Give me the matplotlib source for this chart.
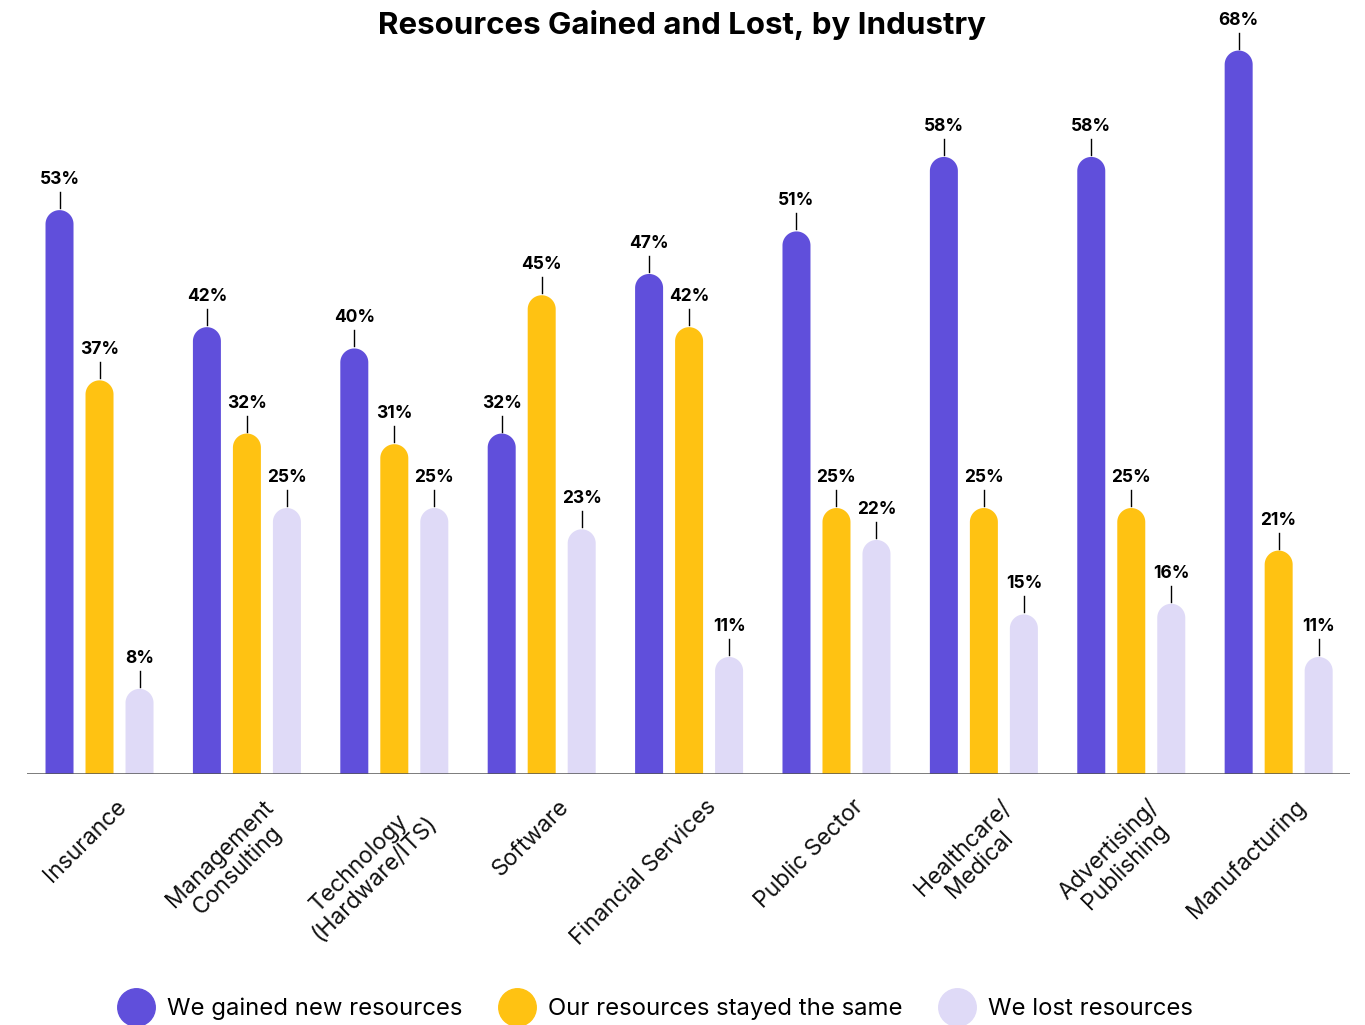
import numpy as np
import matplotlib.pyplot as plt
from matplotlib.patches import Polygon
from matplotlib.lines import Line2D
from matplotlib.transforms import ScaledTranslation

plt.rcParams['font.family'] = ['Inter', 'DejaVu Sans']

industries = ['Insurance', 'Management\nConsulting', 'Technology\n(Hardware/ITS)', 'Software',
              'Financial Services', 'Public Sector', 'Healthcare/\nMedical',
              'Advertising/\nPublishing', 'Manufacturing']
gained = [53, 42, 40, 32, 47, 51, 58, 58, 68]
same = [37, 32, 31, 45, 42, 25, 25, 25, 21]
lost = [8, 25, 25, 23, 11, 22, 15, 16, 11]
series_names = ['We gained new resources', 'Our resources stayed the same', 'We lost resources']
colors = ['#604fdb', '#ffc212', '#dfdaf7']

fig = plt.figure(figsize=(13.65, 10.25), dpi=100)
ax = fig.add_axes([27 / 1365, 251 / 1025, 1323 / 1365, 766 / 1025])

x = np.arange(len(industries))
xmin, xmax = -0.492, 8.484
ymin, ymax = 0, 72
ax.set_xlim(xmin, xmax)
ax.set_ylim(ymin, ymax)

# pixel -> data conversions so the rounded caps come out circular
px_x = (xmax - xmin) / 1323
px_y = (ymax - ymin) / 766
bw = 28 * px_x
off = 40 * px_x
ry = 14 * px_y
t = np.linspace(np.pi, 0, 40)

for k, vals in enumerate([gained, same, lost]):
    for i, v in enumerate(vals):
        cx = x[i] + (k - 1) * off
        cap = np.column_stack([cx + bw / 2 * np.cos(t), v - ry + ry * np.sin(t)])
        pts = np.vstack([[cx - bw / 2, 0], cap, [cx + bw / 2, 0]])
        ax.add_patch(Polygon(pts, closed=True, color=colors[k], lw=0))
        ax.plot([cx, cx], [v + 2 * px_y, v + 18 * px_y], color='black', lw=1)
        ax.text(cx, v + 22 * px_y, f'{v}%', ha='center', va='bottom',
                fontsize=12.5, fontweight='bold', color='black')

ax.axhline(0, color='#555555', lw=1.8)
for s in ax.spines.values():
    s.set_visible(False)
ax.set_xticks([])
ax.set_yticks([])

trans = ax.get_xaxis_transform() + ScaledTranslation(16 / 100, -22 / 100, fig.dpi_scale_trans)
for i, name in enumerate(industries):
    ax.text(x[i], 0, name, transform=trans, rotation=45, rotation_mode='anchor',
            ha='right', va='top', multialignment='center', fontsize=16.5,
            linespacing=1.05, color='#111111')

fig.text(0.5, 0.976, 'Resources Gained and Lost, by Industry', ha='center', va='center',
         fontsize=22.5, fontweight='bold', color='black')

handles = [Line2D([], [], marker='o', ls='', markersize=27, markerfacecolor=c,
                  markeredgecolor=c) for c in colors]
fig.legend(handles, series_names, loc='lower center', bbox_to_anchor=(0.478, -0.016), ncol=3,
           frameon=False, fontsize=17.2, handletextpad=0.3, columnspacing=1.3)

fig.savefig('out.png', dpi=100, facecolor='white')
